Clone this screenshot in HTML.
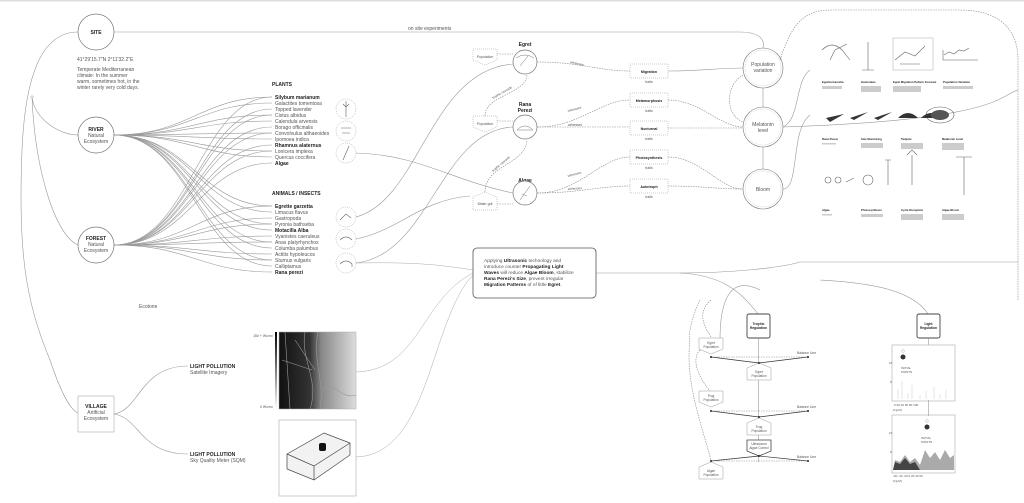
<!DOCTYPE html>
<html><head><meta charset="utf-8"><style>
html,body{margin:0;padding:0;background:#fff;}
svg{display:block;font-family:"Liberation Sans",sans-serif;font-size:5px}
.t{fill:#555}
.b{font-weight:bold;fill:#222}
.l{fill:none;stroke:#999;stroke-width:.6}
.d{fill:none;stroke:#888;stroke-width:.6;stroke-dasharray:1.5 1}
.c{fill:#fff;stroke:#777;stroke-width:.7}
</style></head><body>
<svg id="s" width="1024" height="503" viewBox="0 0 1024 503" xmlns="http://www.w3.org/2000/svg">
<rect width="1024" height="503" fill="#fff"/>
<rect x="0" y="0" width="1024" height="1.5" fill="#ddd"/>
<g id="fan"></g>
<path class="l" d="M114,32 L740,32 C760,32 765,40 763,48"/>
<text class="t" x="408" y="30">on site experiments</text>
<path class="l" d="M78,32 C40,32 25,80 22,150 C18,250 25,300 50,360 C60,390 70,410 78,413"/>
<path class="l" d="M32,97 C35,120 60,135 78,135"/>
<path class="l" d="M32,97 C35,170 55,235 78,245"/>
<circle cx="32" cy="97" r="1.2" fill="#fff" stroke="#999" stroke-width=".5"/>
<circle class="c" cx="96" cy="32" r="18"/><text class="t b" x="96" y="34" text-anchor="middle">SITE</text>
<text class="t" x="77" y="61">41°29'15.7"N 2°11'32.2"E</text>
<text class="t" x="77" y="71">Temperate Mediterranean</text>
<text class="t" x="77" y="77">climate: In the summer</text>
<text class="t" x="77" y="83">warm, sometimes hot, in the</text>
<text class="t" x="77" y="89">winter rarely very cold days.</text>
<circle class="c" cx="96" cy="135" r="18"/><text class="t" x="96" y="131" text-anchor="middle"><tspan class="b">RIVER</tspan><tspan x="96" dy="6">Natural</tspan><tspan x="96" dy="6">Ecosystem</tspan></text>
<circle class="c" cx="96" cy="245" r="18"/><text class="t" x="96" y="240" text-anchor="middle"><tspan class="b">FOREST</tspan><tspan x="96" dy="6">Natural</tspan><tspan x="96" dy="6">Ecosystem</tspan></text>
<text class="t b" x="272" y="86">PLANTS</text>
<g class="t">
<text x="275" y="99" class="t b">Silybum marianum</text><text x="275" y="105">Galactites tomentosa</text><text x="275" y="111">Topped lavender</text><text x="275" y="117">Cistus albidus</text><text x="275" y="123">Calendula arvensis</text><text x="275" y="129">Borago officinalis</text><text x="275" y="135">Convolvulus althaeoides</text><text x="275" y="141">Ipomoea indica</text><text x="275" y="147" class="t b">Rhamnus alaternus</text><text x="275" y="153">Lonicera implexa</text><text x="275" y="159">Quercus coccifera</text><text x="275" y="165" class="t b">Algae</text>
</g>
<text class="t b" x="272" y="195">ANIMALS / INSECTS</text>
<g class="t">
<text x="275" y="208" class="t b">Egrette garzetta</text><text x="275" y="214">Limacus flavus</text><text x="275" y="220">Gastropoda</text><text x="275" y="226">Pyronia bathseba</text><text x="275" y="232" class="t b">Motacilla Alba</text><text x="275" y="238">Vyanistes caeruleus</text><text x="275" y="244">Anas platyrhynchos</text><text x="275" y="250">Columba palumbus</text><text x="275" y="256">Actitis hypoleucos</text><text x="275" y="262">Sturnus vulgaris</text><text x="275" y="268">Calliptamus</text><text x="275" y="274" class="t b">Rana perezi</text>
</g>
<g fill="#fff" stroke="#999" stroke-width=".5" stroke-dasharray="1 1">
<circle cx="346" cy="109" r="10"/><circle cx="346" cy="131" r="10"/><circle cx="346" cy="153" r="10"/>
<circle cx="346" cy="217" r="10"/><circle cx="346" cy="239" r="10"/><circle cx="346" cy="263" r="10"/>
</g>
<g stroke="#666" stroke-width=".6" fill="none">
<path d="M346,101 v16 M343,104 l3,3 l3,-3"/><path d="M341,128 h10 M342,133 h8"/><path d="M343,160 l6,-14"/>
<path d="M340,220 l6,-6 l5,4"/><path d="M340,240 q6,-6 12,0"/><path d="M340,264 q6,-6 12,0 v3"/>
</g>
<path class="l" d="M356,153 C420,155 450,180 513,193"/>
<path class="l" d="M356,217 C420,200 430,70 513,64"/>
<path class="l" d="M356,263 C430,255 440,130 513,127"/>
<path class="l" d="M356,239 C400,230 420,200 470,196"/>
<g stroke="#aaa" fill="none" stroke-width=".5">
<path d="M356,263 C420,262 440,265 473,270"/><path d="M356,372 C420,370 420,300 473,273"/><path d="M356,457 C430,455 430,320 473,275"/>
</g>
<text class="t" x="139" y="308">Ecotone</text>
<rect x="78" y="396" width="36" height="36" fill="#fff" stroke="#aaa" stroke-width=".6"/>
<text class="t" x="96" y="408" text-anchor="middle"><tspan class="b">VILLAGE</tspan><tspan x="96" dy="6">Artificial</tspan><tspan x="96" dy="6">Ecosystem</tspan></text>
<path class="l" d="M114,414 C140,410 140,366 188,366"/>
<path class="l" d="M114,414 C140,418 140,454 188,454"/>
<text class="t b" x="190" y="368">LIGHT POLLUTION</text><text class="t" x="190" y="374">Satellite Imagery</text>
<text class="t b" x="190" y="456">LIGHT POLLUTION</text><text class="t" x="190" y="462">Sky Quality Meter (SQM)</text>
<defs><linearGradient id="g1" x1="0" y1="0" x2="1" y2="0"><stop offset="0" stop-color="#111"/><stop offset=".4" stop-color="#333"/><stop offset=".55" stop-color="#888"/><stop offset="1" stop-color="#ddd"/></linearGradient>
<linearGradient id="g2" x1="0" y1="0" x2="0" y2="1"><stop offset="0" stop-color="#000"/><stop offset="1" stop-color="#fff"/></linearGradient></defs>
<rect x="275" y="332" width="2" height="77" fill="url(#g2)"/>
<text x="273" y="337" class="t" font-size="3.5" text-anchor="end">150 + W/cm²</text>
<text x="273" y="408" class="t" font-size="3.5" text-anchor="end">0 W/cm²</text>
<rect x="279" y="332" width="77" height="77" fill="url(#g1)" stroke="#aaa" stroke-width=".5"/>
<g stroke="#999" stroke-width=".6" fill="none"><path d="M285,332 L290,409 M295,340 l20,30 M282,360 l30,10 M305,332 C300,360 320,380 310,409 M318,332 C312,360 325,380 320,409 M322,390 C335,380 340,400 356,395"/></g>
<rect x="279" y="420" width="77" height="76" fill="#fff" stroke="#aaa" stroke-width=".6"/>
<path d="M287,454 L324,433 L350,443 L350,455 L314,480 L287,469 Z" fill="#f2f2f2" stroke="#444" stroke-width=".7"/>
<path d="M287,454 L314,466 L350,443 M314,466 V480" fill="none" stroke="#444" stroke-width=".7"/>
<rect x="319" y="443" width="7" height="8" rx="2" fill="#111"/>
<text class="t b" x="525" y="46" text-anchor="middle">Egret</text>
<text class="t b" x="525" y="106" text-anchor="middle">Rana<tspan x="525" dy="6">Perezi</tspan></text>
<text class="t b" x="525" y="182" text-anchor="middle">Algae</text>
<circle class="c" cx="525" cy="62" r="12"/><circle class="c" cx="525" cy="127" r="12"/><circle class="c" cx="525" cy="193" r="12"/>
<g stroke="#777" stroke-width=".5" fill="none"><path d="M516,58 q9,-6 18,0 M520,66 l8,-10"/><path d="M517,130 q8,-8 16,0 h-16"/><path d="M520,200 l10,-14 M522,194 l5,2"/></g>
<g fill="#fff" stroke="#999" stroke-width=".5" stroke-dasharray="1 1">
<path d="M473,49 h24 v11 l-12,5 l-12,-5z"/><path d="M473,116 h24 v11 l-12,5 l-12,-5z"/><path d="M473,197 l12,-5 l12,5 v13 h-24z"/>
</g>
<text class="t" font-size="3.5" x="485" y="58" text-anchor="middle">Population</text>
<text class="t" font-size="3.5" x="485" y="125" text-anchor="middle">Population</text>
<text class="t" font-size="3.5" x="485" y="205" text-anchor="middle">Water grit</text>
<g class="d"><path d="M497,54 h16"/><path d="M497,121 h16"/><path d="M497,204 h16"/>
<path d="M485,116 C485,95 525,95 527,75"/><path d="M485,192 C485,165 525,165 527,140"/>
<path d="M537,62 C580,62 600,71 630,71"/><path d="M537,127 C580,127 600,100 630,100"/><path d="M537,127 H630"/>
<path d="M537,193 C580,193 600,157 630,157"/><path d="M537,193 C580,193 600,186 630,186"/>
<path d="M668,100 C700,100 720,127 743,127"/><path d="M668,128 H743"/><path d="M668,157 C700,157 720,189 743,189"/><path d="M668,186 C700,186 720,189 743,189"/>
<path d="M743,75 C725,85 725,115 743,122"/></g>
<path class="l" d="M668,71 C700,71 720,68 743,68"/>
<g class="t" font-size="3.2"><text x="570" y="63" transform="rotate(12 570 63)">witnesses</text><text x="568" y="112" transform="rotate(-15 568 112)">witnesses</text><text x="568" y="126">witnesses</text><text x="568" y="177" transform="rotate(-15 568 177)">witnesses</text><text x="568" y="190" transform="rotate(-4 568 190)">witnesses</text>
<text x="493" y="99" transform="rotate(-30 493 99)">trophic cascade</text><text x="493" y="172" transform="rotate(-40 493 172)">trophic cascade</text></g>
<g fill="#fff" stroke="#999" stroke-width=".5" stroke-dasharray="1 1">
<rect x="630" y="64" width="38" height="14"/><rect x="630" y="93" width="38" height="14"/><rect x="630" y="121" width="38" height="14"/><rect x="630" y="150" width="38" height="14"/><rect x="630" y="179" width="38" height="14"/>
</g>
<g class="b" font-size="3.6" text-anchor="middle"><text x="649" y="73">Migration</text><text x="649" y="102">Metamorphosis</text><text x="649" y="130">Nocturnal</text><text x="649" y="159">Photosynthesis</text><text x="649" y="188">Autotroph</text></g>
<g class="t" font-size="3.5" text-anchor="middle"><text x="649" y="83">traits</text><text x="649" y="112">traits</text><text x="649" y="140">traits</text><text x="649" y="169">traits</text><text x="649" y="198">traits</text></g>
<path class="l" d="M763,88 V107 M763,147 V169"/>
<g fill="#fff" stroke="#777" stroke-width=".6"><circle cx="763" cy="68" r="20"/><circle cx="763" cy="127" r="20"/><circle cx="763" cy="189" r="20"/></g>
<g fill="none" stroke="#aaa" stroke-width=".4" stroke-dasharray="1 .8"><circle cx="763" cy="68" r="18"/><circle cx="763" cy="127" r="18"/><circle cx="763" cy="189" r="18"/></g>
<g class="t" font-size="5" text-anchor="middle" fill="#444"><text x="763" y="66">Population<tspan x="763" dy="6">variation</tspan></text><text x="763" y="126">Melatonin<tspan x="763" dy="6">level</tspan></text><text x="763" y="191">Bloom</text></g>
<path class="d" d="M780,60 C790,30 800,10 830,10 L960,10 C1000,10 1018,30 1018,60 L1018,300"/>
<path class="l" d="M783,189 C800,189 790,130 810,115 M783,127 C800,120 795,80 810,70"/>
<path class="l" d="M1018,90 C1000,95 1000,120 783,127"/>
<g stroke="#666" stroke-width=".6" fill="none">
<path d="M822,50 q10,-10 20,0 l8,10 M830,60 l5,-10 l12,-6"/><path d="M868,42 v28 M862,70 h12"/>
<rect x="893" y="38" width="40" height="32" stroke="#bbb"/><path d="M895,60 l10,-8 l10,4 l10,-10 M900,64 h20"/>
<path d="M944,55 l5,-3 l5,2 l5,-4 l5,1 l5,-3 M943,50 v10 h35"/>
<circle cx="828" cy="180" r="3"/><circle cx="838" cy="180" r="3"/><path d="M846,182 l8,-4"/><circle cx="868" cy="180" r="5"/>
<path d="M888,185 v-25 M885,160 h6 M912,185 v-30 M907,155 l5,-5 l5,5 M964,195 v-38 M956,157 h16"/>
<ellipse cx="940" cy="115" rx="14" ry="8"/>
</g>
<g fill="#333"><path d="M826,118 l18,-4 l-14,8z M850,118 l18,-6 l-14,8z M874,118 l18,-6 l-14,8z M898,118 q10,-10 20,0z M921,118 q10,-10 20,0z"/><ellipse cx="940" cy="115" rx="9" ry="5" fill="#555"/></g>
<g class="b" font-size="2.8"><text x="822" y="83">Egretta Garzetta</text><text x="861" y="83">Gastrolane</text><text x="893" y="83">Egret Migration Pattern Forecast</text><text x="943" y="83">Population Variation</text>
<text x="822" y="140">Rana Perezi</text><text x="861" y="140">Size Monitoring</text><text x="901" y="140">Tadpole</text><text x="942" y="140">Melatonin Level</text>
<text x="822" y="211">Algae</text><text x="861" y="211">Photosynthesis</text><text x="901" y="211">Cycle Disruption</text><text x="942" y="211">Algae Bloom</text></g>
<g fill="#ccc"><rect x="822" y="86" width="20" height="3"/><rect x="861" y="86" width="20" height="6"/><rect x="893" y="86" width="28" height="6"/><rect x="943" y="86" width="30" height="3"/>
<rect x="822" y="143" width="14" height="1.5"/><rect x="861" y="143" width="22" height="5"/><rect x="901" y="143" width="22" height="6"/><rect x="942" y="143" width="22" height="7"/>
<rect x="822" y="214" width="10" height="1.5"/><rect x="861" y="214" width="22" height="3"/><rect x="901" y="214" width="22" height="6"/><rect x="942" y="214" width="22" height="6"/></g>
<rect x="473" y="248" width="123" height="50" rx="4" fill="#fff" stroke="#555" stroke-width=".8"/>
<text class="t" font-size="4.8" x="484" y="262" fill="#555">Applying <tspan class="b">Ultrasonic</tspan> technology and<tspan x="484" dy="6">introduce counter <tspan class="b">Propagating Light</tspan></tspan><tspan x="484" dy="6"><tspan class="b">Waves</tspan> will reduce <tspan class="b">Algae Bloom</tspan>, stabilize</tspan><tspan x="484" dy="6"><tspan class="b">Rana Perezi's Size</tspan>, prevent irregular</tspan><tspan x="484" dy="6"><tspan class="b">Migration Patterns</tspan> of of little <tspan class="b">Egret</tspan>.</tspan></text>
<path class="l" d="M596,273 L680,273 C730,273 780,268 800,262 L1018,262"/>
<path class="l" d="M760,290 C730,275 720,300 720,340 L700,350"/>
<path class="l" d="M680,273 C720,275 740,290 758,314"/>
<path class="l" d="M820,280 C850,282 910,285 928,314"/>
<rect x="747" y="314" width="23" height="24" rx="2" fill="#fff" stroke="#444" stroke-width=".9"/>
<text class="b" font-size="3.3" x="758.5" y="325" text-anchor="middle">Trophic<tspan x="758.5" dy="4">Regulation</tspan></text>
<path class="l" d="M758.5,338 V462"/>
<path class="d" d="M700,300 C690,320 688,340 690,340 C685,380 700,420 711,460 M711,300 C700,310 700,320 711,337 M700,350 C690,360 700,380 711,392"/>
<g fill="#fff" stroke="#999" stroke-width=".5"><path d="M699,338 h24 v11 l-12,5 l-12,-5z"/><path d="M699,391 h24 v11 l-12,5 l-12,-5z"/><path d="M747,368 l12,-5 l12,5 v12 h-24z"/><path d="M747,423 l12,-5 l12,5 v12 h-24z"/><path d="M699,467 l12,-5 l12,5 v12 h-24z"/></g>
<path d="M747,440 h24 v11 l-12,5 l-12,-5z" fill="#fff" stroke="#444" stroke-width=".8"/>
<g class="t" font-size="3.2" text-anchor="middle"><text x="711" y="344">Egret<tspan x="711" dy="4">Population</tspan></text><text x="711" y="397">Frog<tspan x="711" dy="4">Population</tspan></text><text x="759" y="373">Egret<tspan x="759" dy="4">Population</tspan></text><text x="759" y="428">Frog<tspan x="759" dy="4">Population</tspan></text><text x="759" y="445">Ultrasound<tspan x="759" dy="4">Algae Control</tspan></text><text x="711" y="472">Algae<tspan x="711" dy="4">Population</tspan></text></g>
<g stroke="#333" stroke-width=".7" fill="none"><path d="M711,357 L759,363 L808,357"/><path d="M711,411 L759,417 L808,411"/><path d="M711,461 L759,456 L808,461"/></g>
<g class="d"><path d="M711,357 H808 M711,411 H808 M711,461 H808"/></g>
<g fill="#222"><circle cx="711" cy="357" r="1"/><circle cx="759" cy="363" r="1"/><circle cx="808" cy="357" r="1"/><circle cx="711" cy="411" r="1"/><circle cx="759" cy="417" r="1"/><circle cx="808" cy="411" r="1"/><circle cx="711" cy="461" r="1"/><circle cx="759" cy="456" r="1"/><circle cx="808" cy="461" r="1"/></g>
<g class="t" font-size="3.3"><text x="797" y="354">Balance Line</text><text x="797" y="408">Balance Line</text><text x="797" y="458">Balance Line</text></g>
<rect x="917" y="314" width="23" height="24" rx="2" fill="#fff" stroke="#444" stroke-width=".9"/>
<text class="b" font-size="3.3" x="928.5" y="325" text-anchor="middle">Light<tspan x="928.5" dy="4">Regulation</tspan></text>
<path class="l" d="M928.5,338 V345"/>
<rect x="892" y="345" width="63" height="56" fill="#fff" stroke="#aaa" stroke-width=".6"/>
<rect x="892" y="415" width="63" height="58" fill="#fff" stroke="#aaa" stroke-width=".6"/>
<g stroke="#ccc" stroke-width=".5"><path d="M898,399 v-10 M902,399 v-18 M908,399 v-6 M912,399 v-14 M920,399 v-4 M926,399 v-8 M934,399 v-12 M940,399 v-5 M946,399 v-9"/></g>
<path d="M893,470 L895,460 L900,462 L905,455 L910,462 L915,458 L920,465 L925,450 L930,458 L935,452 L940,460 L945,450 L950,458 L954,455 V470z" fill="#aaa"/>
<path d="M893,470 L895,462 L900,464 L905,458 L910,464 L915,462 L920,470z" fill="#444"/>
<circle cx="903" cy="357" r="2.5" fill="#333"/><circle cx="903" cy="351" r="1.3" fill="none" stroke="#999" stroke-width=".4"/>
<circle cx="927" cy="427" r="2.5" fill="#333"/><circle cx="927" cy="421" r="1.3" fill="none" stroke="#999" stroke-width=".4"/>
<g class="t" font-size="3"><text x="901" y="369">INITIAL<tspan x="901" dy="4">POINTS</tspan></text><text x="921" y="439">INITIAL<tspan x="921" dy="4">POINTS</tspan></text>
<text x="889" y="364">10</text><text x="890" y="383">5</text><text x="889" y="434">10</text><text x="890" y="453">5</text>
<text x="894" y="406">0 20 40 60 80 100</text><text x="893" y="411">Z [μM]</text><text x="893" y="477">-60 -40 -20 0 20 40 60</text><text x="893" y="482">Z [μM]</text></g>
<path class="l" d="M928.5,400 V416"/>
</svg>
<script>
var g=document.getElementById('fan'),s='';
var py=[],ay=[];for(var i=0;i<12;i++){py.push(97+6*i);ay.push(206+6*i);}
var all=py.concat(ay);
[[114,135],[114,245]].forEach(function(o,k){all.forEach(function(y,j){
 if((j+k)%3==2)return;
 s+='<path class="l" d="M'+o[0]+','+o[1]+' C190,'+o[1]+' 200,'+y+' 272,'+y+'" stroke-width=".4"/>';});});
g.innerHTML=s;
</script>
</body></html>
